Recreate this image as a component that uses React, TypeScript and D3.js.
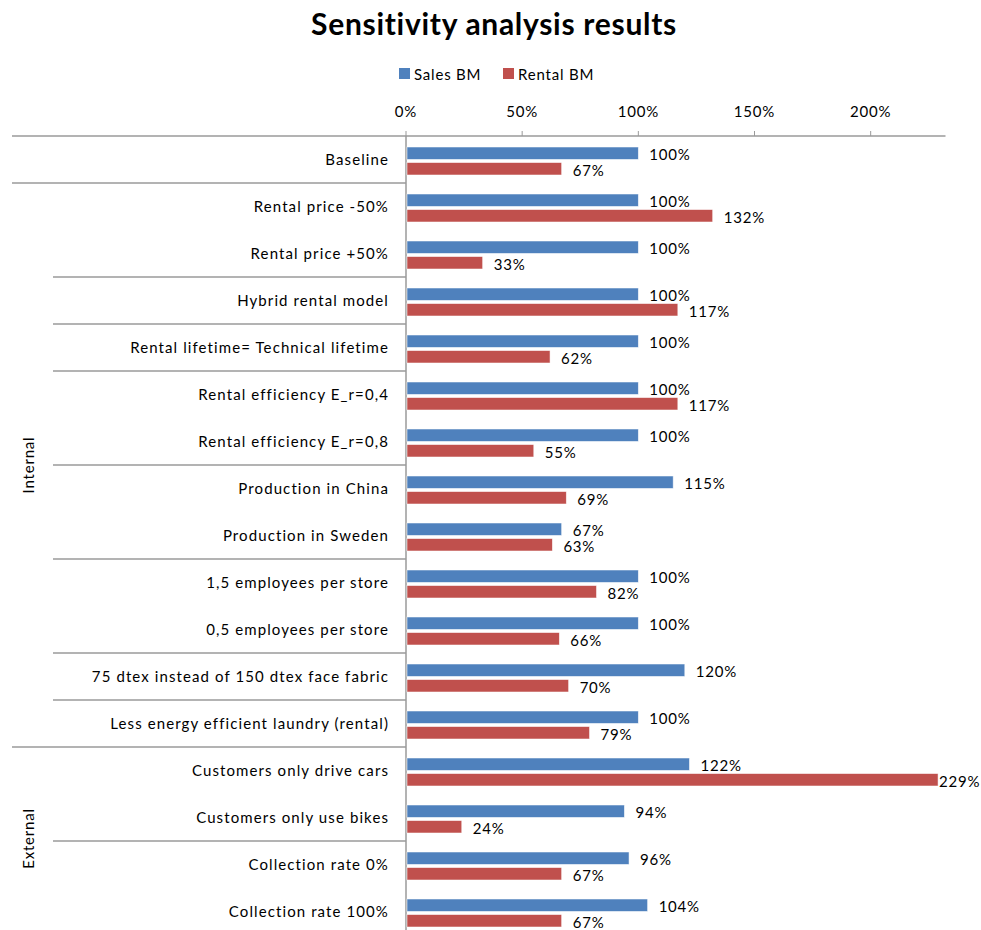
import React from "react";
import * as d3 from "d3";

// Scenario names, top to bottom
const categories = [
  "Baseline",
  "Rental price -50%",
  "Rental price +50%",
  "Hybrid rental model",
  "Rental lifetime= Technical lifetime",
  "Rental efficiency E_r=0,4",
  "Rental efficiency E_r=0,8",
  "Production in China",
  "Production in Sweden",
  "1,5 employees per store",
  "0,5 employees per store",
  "75 dtex instead of 150 dtex face fabric",
  "Less energy efficient laundry (rental)",
  "Customers only drive cars",
  "Customers only use bikes",
  "Collection rate 0%",
  "Collection rate 100%",
];

// Relative impact (1 = 100%)
const salesBM = [1.0, 1.0, 1.0, 1.0, 1.0, 1.0, 1.0, 1.15, 0.67, 1.0, 1.0, 1.2, 1.0, 1.22, 0.94, 0.96, 1.04];
const rentalBM = [0.67, 1.32, 0.33, 1.17, 0.62, 1.17, 0.55, 0.69, 0.63, 0.82, 0.66, 0.7, 0.79, 2.29, 0.24, 0.67, 0.67];

const seriesNames = ["Sales BM", "Rental BM"];
const seriesColors = ["#4F81BD", "#C0504D"];

// Outer grouping of the categories (number of rows per group)
const groupNames = ["", "Internal", "External"];
const groupSizes = [1, 12, 4];
// Inner grouping (rows per sub-group)
const subgroupSizes = [1, 2, 1, 1, 2, 2, 2, 1, 1, 2, 2];

const xTicks = [0, 0.5, 1, 1.5, 2];

const W = 981;
const H = 930;
const FONT = "Lato, 'Open Sans', sans-serif";

export default function App() {
  const left = 406;
  const right = 945.5;
  const top = 136;
  const band = 47;

  const x = d3.scaleLinear().domain([0, 2.322]).range([left, right]);
  const y = d3
    .scaleBand<string>()
    .domain(categories)
    .range([top, top + band * categories.length])
    .padding(0);
  const inner = d3
    .scaleBand<string>()
    .domain(seriesNames)
    .range([11, 39])
    .paddingInner(0.2);

  const pct = d3.format(".0%");
  const series = [salesBM, rentalBM];

  // boundaries between sub-groups and groups
  const subBounds: number[] = [];
  let acc = 0;
  subgroupSizes.forEach((s) => {
    acc += s;
    subBounds.push(acc);
  });
  const groupBounds: number[] = [];
  const groupSpans: [number, number][] = [];
  acc = 0;
  groupSizes.forEach((s) => {
    groupSpans.push([acc, acc + s]);
    acc += s;
    groupBounds.push(acc);
  });
  const rowY = (i: number) => top + band * i;

  const gray = "#9a9a9a";
  const ls = 0.8;

  return (
    <svg
      width={W}
      height={H}
      style={{ position: "absolute", left: 0, top: 0, background: "#fff" }}
      fontFamily={FONT}
    >
      <rect width={W} height={H} fill="#fff" />
      <text
        x={494}
        y={23}
        textAnchor="middle"
        dominantBaseline="central"
        fontSize={30}
        fontWeight={700}
        letterSpacing={0.7}
        fill="#000"
      >
        Sensitivity analysis results
      </text>

      {/* legend */}
      {seriesNames.map((name, i) => {
        const lx = [399, 503][i];
        return (
          <g key={name}>
            <rect x={lx} y={68} width={11} height={11} fill={seriesColors[i]} />
            <text
              x={lx + 15}
              y={74}
              dominantBaseline="central"
              fontSize={15}
              letterSpacing={ls}
              fill="#000"
            >
              {name}
            </text>
          </g>
        );
      })}

      {/* value axis */}
      <line x1={12} x2={right} y1={top} y2={top} stroke={gray} strokeWidth={1.5} />
      {xTicks.map((t) => (
        <g key={t}>
          <line x1={x(t)} x2={x(t)} y1={top - 5} y2={top} stroke={gray} strokeWidth={1} />
          <text
            x={x(t)}
            y={111}
            textAnchor="middle"
            dominantBaseline="central"
            fontSize={15}
            letterSpacing={ls}
            fill="#000"
          >
            {pct(t)}
          </text>
        </g>
      ))}

      {/* category axis */}
      <line x1={left} x2={left} y1={top} y2={H} stroke={gray} strokeWidth={1.5} />
      {subBounds
        .filter((b) => b < categories.length)
        .map((b) => {
          const full = groupBounds.includes(b);
          return (
            <line
              key={b}
              x1={full ? 12 : 53}
              x2={left}
              y1={rowY(b)}
              y2={rowY(b)}
              stroke={gray}
              strokeWidth={1.5}
            />
          );
        })}
      {groupNames.map((g, i) => {
        if (!g) return null;
        const cy = (rowY(groupSpans[i][0]) + Math.min(rowY(groupSpans[i][1]), H)) / 2;
        return (
          <text
            key={g}
            transform={`translate(28,${cy}) rotate(-90)`}
            textAnchor="middle"
            dominantBaseline="central"
            fontSize={15}
            letterSpacing={ls}
            fill="#000"
          >
            {g}
          </text>
        );
      })}
      {categories.map((c) => (
        <text
          key={c}
          x={389}
          y={(y(c) as number) + band / 2 - 1}
          textAnchor="end"
          dominantBaseline="central"
          fontSize={15}
          letterSpacing={1.1}
          fill="#000"
        >
          {c}
        </text>
      ))}

      {/* bars and value labels */}
      {series.map((vals, si) =>
        categories.map((c, ci) => {
          const by = (y(c) as number) + (inner(seriesNames[si]) as number);
          const bh = inner.bandwidth();
          const v = vals[ci];
          const ex = x(v);
          const lx = Math.min(ex + 11, W - 42);
          return (
            <g key={`${si}-${ci}`}>
              <rect
                x={x(0) + 1}
                y={by}
                width={ex - x(0) - 1}
                height={bh}
                fill={seriesColors[si]}
                stroke="rgba(255,255,255,0.7)"
                strokeWidth={0.75}
              />
              <text
                x={lx}
                y={by + bh / 2 + 1}
                dominantBaseline="central"
                fontSize={15}
                letterSpacing={ls}
                fill="#000"
              >
                {pct(v)}
              </text>
            </g>
          );
        })
      )}
    </svg>
  );
}
